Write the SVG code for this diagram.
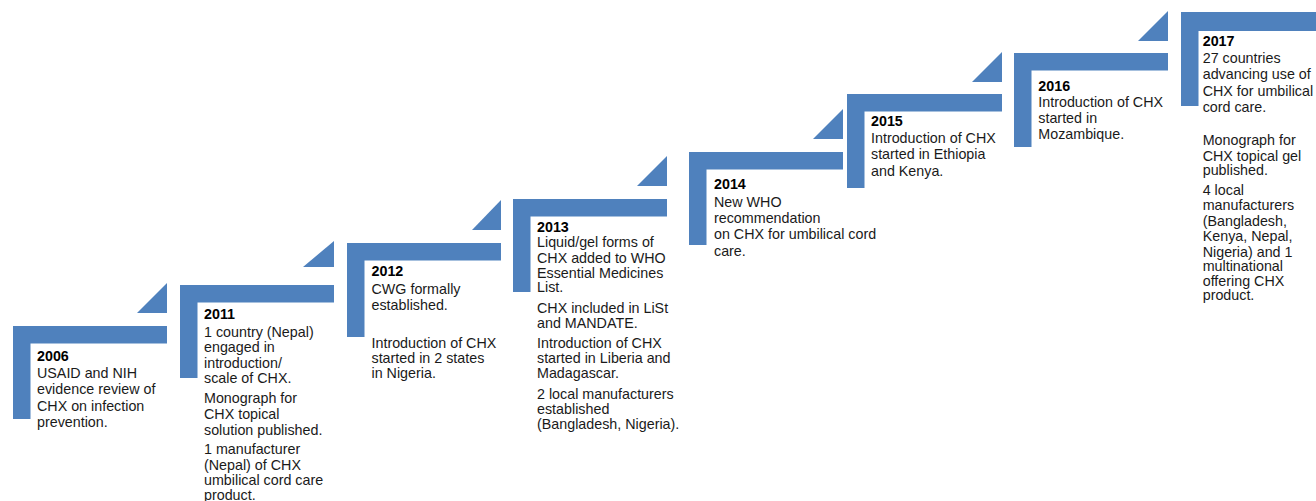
<svg xmlns="http://www.w3.org/2000/svg" width="1316" height="501" viewBox="0 0 1316 501">
<style>
.bar{fill:#4f81bd}
text{font-family:"Liberation Sans",Arial,sans-serif;font-size:14.3px;fill:#1a1a1a}
.yr{font-weight:bold;fill:#000}
</style>
<rect width="1316" height="501" fill="#fff"/>
<g id="connectors">
<polygon class="bar" points="137,313 167,283 167,313"/>
<polygon class="bar" points="303,267 334,241 334,267"/>
<polygon class="bar" points="472,230 501,200 501,230"/>
<polygon class="bar" points="637,186 667,156 667,186"/>
<polygon class="bar" points="813,139 843,109 843,139"/>
<polygon class="bar" points="972,82 1002,52 1002,82"/>
<polygon class="bar" points="1138,41 1168,11 1168,41"/>
</g>
<g id="step2006">
<path class="bar" d="M13,326H167V343.5H30.5V419H13Z"/>
<text x="37" y="361"><tspan class="yr">2006</tspan><tspan x="37" y="377.5">USAID and NIH</tspan><tspan x="37" y="394">evidence review of</tspan><tspan x="37" y="410.5">CHX on infection</tspan><tspan x="37" y="427">prevention.</tspan></text>
</g>
<g id="step2011">
<path class="bar" d="M180,285H334V302.5H197.5V378H180Z"/>
<text x="204" y="319"><tspan class="yr">2011</tspan><tspan x="204" y="336.5">1 country (Nepal)</tspan><tspan x="204" y="352">engaged in</tspan><tspan x="204" y="367.7">introduction/</tspan><tspan x="204" y="383.3">scale of CHX.</tspan><tspan x="204" y="403.3">Monograph for</tspan><tspan x="204" y="419">CHX topical</tspan><tspan x="204" y="434.5">solution published.</tspan><tspan x="204" y="454.3">1 manufacturer</tspan><tspan x="204" y="470">(Nepal) of CHX</tspan><tspan x="204" y="485.3">umbilical cord care</tspan><tspan x="204" y="500">product.</tspan></text>
</g>
<g id="step2012">
<path class="bar" d="M347,243H501V260.5H364.5V337H347Z"/>
<text x="371.5" y="276"><tspan class="yr">2012</tspan><tspan x="371.5" y="293.5">CWG formally</tspan><tspan x="371.5" y="310">established.</tspan><tspan x="371.5" y="348.3">Introduction of CHX</tspan><tspan x="371.5" y="363.3">started in 2 states</tspan><tspan x="371.5" y="378.3">in Nigeria.</tspan></text>
</g>
<g id="step2013">
<path class="bar" d="M513,199H667V216.5H530.5V292H513Z"/>
<text x="537" y="231.7"><tspan class="yr">2013</tspan><tspan x="537" y="247.3">Liquid/gel forms of</tspan><tspan x="537" y="262.7">CHX added to WHO</tspan><tspan x="537" y="277.7">Essential Medicines</tspan><tspan x="537" y="292">List.</tspan><tspan x="537" y="312.7">CHX included in LiSt</tspan><tspan x="537" y="327.7">and MANDATE.</tspan><tspan x="537" y="348.3">Introduction of CHX</tspan><tspan x="537" y="363.3">started in Liberia and</tspan><tspan x="537" y="378.3">Madagascar.</tspan><tspan x="537" y="399.3">2 local manufacturers</tspan><tspan x="537" y="414">established</tspan><tspan x="537" y="429">(Bangladesh, Nigeria).</tspan></text>
</g>
<g id="step2014">
<path class="bar" d="M689,152H843V169.5H706.5V245H689Z"/>
<text x="714" y="189.3"><tspan class="yr">2014</tspan><tspan x="714" y="206.7">New WHO</tspan><tspan x="714" y="222.7">recommendation</tspan><tspan x="714" y="239.3">on CHX for umbilical cord</tspan><tspan x="714" y="256">care.</tspan></text>
</g>
<g id="step2015">
<path class="bar" d="M847,94H1002V111.5H864.5V188H847Z"/>
<text x="871" y="126"><tspan class="yr">2015</tspan><tspan x="871" y="142.7">Introduction of CHX</tspan><tspan x="871" y="159.3">started in Ethiopia</tspan><tspan x="871" y="176">and Kenya.</tspan></text>
</g>
<g id="step2016">
<path class="bar" d="M1014,53H1168V70.5H1031.5V147H1014Z"/>
<text x="1038.3" y="90.7"><tspan class="yr">2016</tspan><tspan x="1038.3" y="106.7">Introduction of CHX</tspan><tspan x="1038.3" y="122.7">started in</tspan><tspan x="1038.3" y="139.3">Mozambique.</tspan></text>
</g>
<g id="step2017">
<path class="bar" d="M1181,12H1316V31H1198.5V106H1181Z"/>
<text x="1202.7" y="46"><tspan class="yr">2017</tspan><tspan x="1202.7" y="62.7">27 countries</tspan><tspan x="1202.7" y="79">advancing use of</tspan><tspan x="1202.7" y="96">CHX for umbilical</tspan><tspan x="1202.7" y="111.7">cord care.</tspan><tspan x="1202.7" y="145">Monograph for</tspan><tspan x="1202.7" y="160.7">CHX topical gel</tspan><tspan x="1202.7" y="175">published.</tspan><tspan x="1202.7" y="195">4 local</tspan><tspan x="1202.7" y="210">manufacturers</tspan><tspan x="1202.7" y="226">(Bangladesh,</tspan><tspan x="1202.7" y="240.7">Kenya, Nepal,</tspan><tspan x="1202.7" y="256.7">Nigeria) and 1</tspan><tspan x="1202.7" y="270.7">multinational</tspan><tspan x="1202.7" y="286">offering CHX</tspan><tspan x="1202.7" y="300">product.</tspan></text>
</g>
</svg>
